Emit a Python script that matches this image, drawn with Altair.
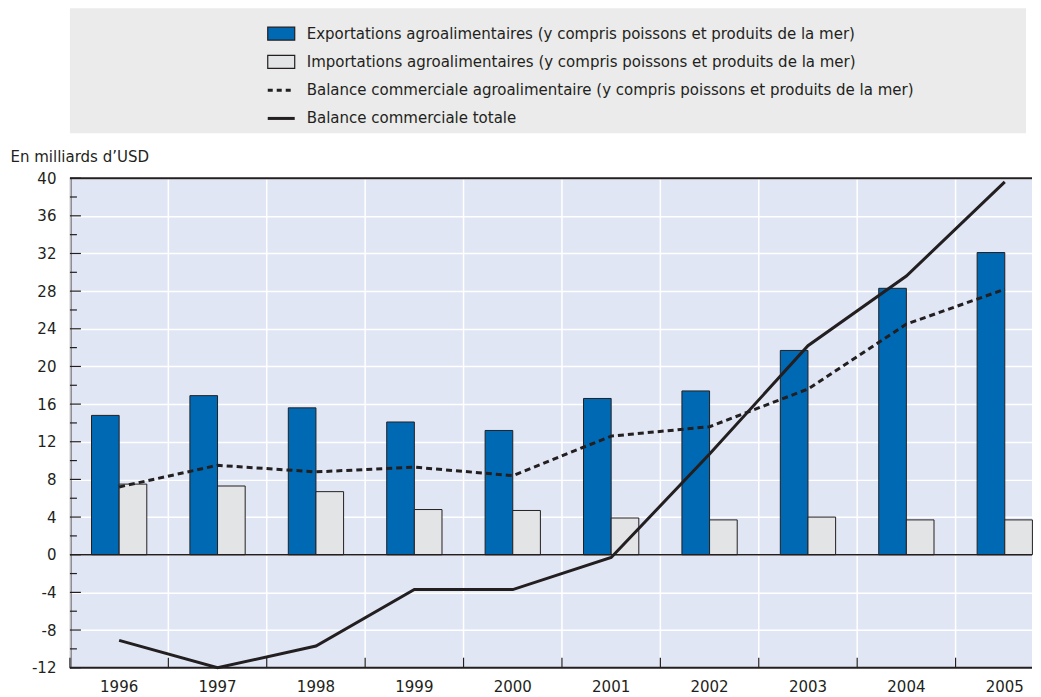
import altair as alt
import pandas as pd

FONT = "DejaVu Sans Condensed, Liberation Sans Narrow, sans-serif"
FS = 16.7
INK = "#231f20"

years = ["1996", "1997", "1998", "1999", "2000", "2001", "2002", "2003", "2004", "2005"]
exports = [14.8, 16.9, 15.6, 14.1, 13.2, 16.6, 17.4, 21.7, 28.3, 32.1]
imports = [7.5, 7.3, 6.7, 4.8, 4.7, 3.9, 3.7, 4.0, 3.7, 3.7]
agri_balance = [7.2, 9.5, 8.8, 9.3, 8.4, 12.6, 13.6, 17.6, 24.5, 28.2]
total_balance = [-9.1, -12.0, -9.7, -3.7, -3.7, -0.3, 10.7, 22.2, 29.6, 39.6]

y_major = list(range(-12, 41, 4))
y_minor = list(range(-10, 40, 4))

lbl_exp = "Exportations agroalimentaires (y compris poissons et produits de la mer)"
lbl_imp = "Importations agroalimentaires (y compris poissons et produits de la mer)"
lbl_agb = "Balance commerciale agroalimentaire (y compris poissons et produits de la mer)"
lbl_tot = "Balance commerciale totale"
legend_labels = [lbl_exp, lbl_imp, lbl_agb, lbl_tot]

bar_types = [lbl_exp, lbl_imp]
bar_colors = ["#0069b4", "#e3e4e6"]

bars_df = pd.DataFrame(
    [{"year": y, "type": lbl_exp, "value": v} for y, v in zip(years, exports)]
    + [{"year": y, "type": lbl_imp, "value": v} for y, v in zip(years, imports)]
)
agb_df = pd.DataFrame({"year": years, "value": agri_balance})
tot_df = pd.DataFrame({"year": years, "value": total_balance})
years_df = pd.DataFrame({"year": years})
major_df = pd.DataFrame({"v": y_major})
minor_df = pd.DataFrame({"v": y_minor})
zero_df = pd.DataFrame({"z": [0]})
frame_df = pd.DataFrame({"z": [-12, 40]})
legend_df = pd.DataFrame({"label": legend_labels, "row": list(range(len(legend_labels)))})

W, H = 963, 490
X_RANGE = 985  # the last band runs past the visible edge, as in the original

x_scale = alt.Scale(paddingInner=0, paddingOuter=0, range=[0, X_RANGE])
y_scale = alt.Scale(domain=[-12, 40], nice=False, zero=False)
color_scale = alt.Scale(domain=bar_types, range=bar_colors)

y_axis = alt.Axis(values=y_major, grid=True, gridColor="white", gridWidth=1.5,
                  ticks=False, domain=True, domainColor=INK, domainWidth=2,
                  labelPadding=14, labelFontSize=FS, labelOverlap=False,
                  labelExpr="'' + datum.value",
                  labelFont=FONT, labelColor=INK,
                  title="En milliards d’USD", titleAngle=0, titleAlign="left",
                  titleX=-60, titleY=-17, titleBaseline="alphabetic",
                  titleFontWeight="normal", titleFontSize=FS, titleFont=FONT,
                  titleColor=INK)


def xq(**kw):
    return alt.X("year:N", sort=years, scale=x_scale, axis=None, **kw)


def yq(field):
    return alt.Y(field, scale=y_scale, axis=y_axis)


legend_box = alt.Chart(zero_df).mark_rect(fill="#ebebeb").encode(
    x=alt.value(0), x2=alt.value(957), y=alt.value(-170), y2=alt.value(-45)
)

x_grid = alt.Chart(years_df).mark_rule(color="white", strokeWidth=1.5).encode(
    x=xq(bandPosition=0), y=alt.value(0), y2=alt.value(H),
)

bars = alt.Chart(bars_df).mark_bar(stroke=INK, strokeWidth=1).encode(
    x=xq(),
    xOffset=alt.XOffset("type:N", sort=bar_types,
                        scale=alt.Scale(paddingInner=0, paddingOuter=0.78)),
    y=yq("value:Q"),
    color=alt.Color("type:N", scale=color_scale, legend=None),
)

zero_line = alt.Chart(zero_df).mark_rule(color=INK, strokeWidth=1.5).encode(y=yq("z:Q"))
frame_lines = alt.Chart(frame_df).mark_rule(color=INK, strokeWidth=2).encode(y=yq("z:Q"))

major_ticks = alt.Chart(major_df).mark_rule(color=INK, strokeWidth=1.2).encode(
    y=yq("v:Q"), x=alt.value(0), x2=alt.value(11)
)
minor_ticks = alt.Chart(minor_df).mark_rule(color=INK, strokeWidth=1.2).encode(
    y=yq("v:Q"), x=alt.value(0), x2=alt.value(7)
)
x_ticks = alt.Chart(years_df).mark_rule(color=INK, strokeWidth=1.2).encode(
    x=xq(bandPosition=0), y=alt.value(H - 10), y2=alt.value(H),
)
x_labels = alt.Chart(years_df).mark_text(
    baseline="middle", fontSize=FS, font=FONT, color=INK
).encode(x=xq(), y=alt.value(H + 19), text="year:N")

agb_line = alt.Chart(agb_df).mark_line(color=INK, strokeWidth=3, strokeDash=[6, 4]).encode(
    x=xq(), y=yq("value:Q")
)
tot_line = alt.Chart(tot_df).mark_line(color=INK, strokeWidth=3).encode(
    x=xq(), y=yq("value:Q")
)

legend_base = alt.Chart(legend_df).transform_calculate(
    py="-144.7 + 28.3 * datum.row", py1="-151.2 + 28.3 * datum.row", py2="-138.2 + 28.3 * datum.row"
)
legend_text = legend_base.mark_text(
    align="left", baseline="middle", fontSize=FS, font=FONT, color=INK
).encode(x=alt.value(237), y=alt.Y("py:Q", scale=None), text="label:N")

legend_swatch = legend_base.transform_filter(
    alt.FieldOneOfPredicate(field="label", oneOf=bar_types)
).mark_rect(stroke=INK, strokeWidth=1.2).encode(
    x=alt.value(198), x2=alt.value(225),
    y=alt.Y("py1:Q", scale=None), y2=alt.Y2("py2:Q"),
    color=alt.Color("label:N", scale=color_scale, legend=None),
)
legend_dash = legend_base.transform_filter(
    alt.FieldEqualPredicate(field="label", equal=lbl_agb)
).mark_rule(color=INK, strokeWidth=3, strokeDash=[5, 4]).encode(
    x=alt.value(198), x2=alt.value(225), y=alt.Y("py:Q", scale=None)
)
legend_solid = legend_base.transform_filter(
    alt.FieldEqualPredicate(field="label", equal=lbl_tot)
).mark_rule(color=INK, strokeWidth=3).encode(
    x=alt.value(198), x2=alt.value(225), y=alt.Y("py:Q", scale=None)
)

chart = alt.layer(
    legend_box, x_grid, bars, zero_line, frame_lines, major_ticks, minor_ticks, x_ticks,
    x_labels, agb_line, tot_line, legend_swatch, legend_dash, legend_solid, legend_text
).properties(
    width=W, height=H, padding={"left": 2, "top": 0, "right": 0, "bottom": 0}
).configure_view(
    fill="#e0e6f4", stroke=None
)

chart.save("out.html", embed_options={"renderer": "svg", "actions": False})
